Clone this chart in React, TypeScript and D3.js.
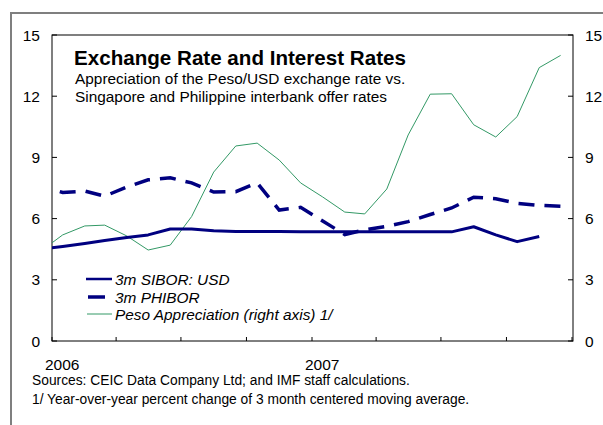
import React from "react";
import * as d3 from "d3";

const months = [
  "2005-12", "2006-01", "2006-02", "2006-03", "2006-04", "2006-05", "2006-06",
  "2006-07", "2006-08", "2006-09", "2006-10", "2006-11", "2006-12",
  "2007-01", "2007-02", "2007-03", "2007-04", "2007-05", "2007-06",
  "2007-07", "2007-08", "2007-09", "2007-10", "2007-11", "2007-12",
];
const sibor: (number | null)[] = [
  4.5, 4.63, 4.78, 4.93, 5.07, 5.2, 5.49, 5.49, 5.4, 5.37, 5.37, 5.37, 5.36,
  5.36, 5.35, 5.35, 5.35, 5.35, 5.35, 5.35, 5.6, 5.2, 4.87, 5.12, null,
];
const phibor: (number | null)[] = [
  7.6, 7.28, 7.35, 7.1, 7.55, 7.9, 8.0, 7.75, 7.3, 7.32, 7.75, 6.42, 6.55,
  5.88, 5.22, 5.45, 5.62, 5.85, 6.2, 6.52, 7.05, 6.97, 6.75, 6.65, 6.6,
];
const pesoAppreciation: (number | null)[] = [
  4.4, 5.2, 5.64, 5.68, 5.15, 4.46, 4.7, 6.1, 8.28, 9.56, 9.7, 8.87, 7.75,
  7.06, 6.32, 6.23, 7.45, 10.1, 12.1, 12.12, 10.6, 10.0, 11.0, 13.4, 14.0,
];
const yTicks = [0, 3, 6, 9, 12, 15];
const yearLabels = ["2006", "2007"];
const legendLabels = ["3m SIBOR: USD", "3m PHIBOR", "Peso Appreciation (right axis) 1/"];
const title = "Exchange Rate and Interest Rates";
const subtitle = [
  "Appreciation of the Peso/USD exchange rate vs.",
  "Singapore and Philippine interbank offer rates",
];
const notes = [
  "Sources: CEIC Data Company Ltd; and IMF staff calculations.",
  "1/ Year-over-year percent change of 3 month centered moving average.",
];

const W = 603;
const H = 425;
const L = 52, R = 573, T = 35, B = 341;
const NAVY = "#000080";
const GREEN = "#339966";
const FONT = "Liberation Sans, Arial, sans-serif";

const parse = (s: string) => {
  const [y, m] = s.split("-").map(Number);
  return new Date(y, m - 1, 16);
};

export default function App() {
  const x = d3.scaleTime().domain([new Date(2006, 0, 1), new Date(2008, 0, 1)]).range([L, R - 1]);
  const yL = d3.scaleLinear().domain([0, 15]).range([B, T]);
  const yR = d3.scaleLinear().domain([0, 15]).range([B, T]);
  const dates = months.map(parse);
  const mk = (vals: (number | null)[], sc: d3.ScaleLinear<number, number>) =>
    d3.line<number>()
      .defined((_, i) => vals[i] != null)
      .x((_, i) => x(dates[i]))
      .y((_, i) => sc(vals[i] as number))(vals.map((v) => (v ?? 0)) as number[]) || "";
  const xTicks = d3.timeMonth.every(3)!.range(new Date(2006, 0, 1), new Date(2008, 0, 2));
  const yearX = [new Date(2006, 0, 1), new Date(2007, 0, 1)];

  return (
    <svg width={W} height={H} style={{ position: "absolute", left: 0, top: 0 }} fontFamily={FONT}>
      <rect width={W} height={H} fill="#fff" />
      <path d={`M11,${H} V13 H${W}`} fill="none" stroke="#7f7f7f" strokeWidth={2} />
      <defs>
        <clipPath id="plot">
          <rect x={L} y={T} width={R - L} height={B - T} />
        </clipPath>
      </defs>
      <rect x={L} y={T} width={R - L} height={B - T} fill="none" stroke="#000" strokeWidth={1} />
      {yTicks.map((t) => (
        <g key={t}>
          <line x1={L} x2={L + 5} y1={yL(t)} y2={yL(t)} stroke="#000" />
          <line x1={R - 5} x2={R} y1={yR(t)} y2={yR(t)} stroke="#000" />
          <text x={40} y={yL(t)} dy="0.36em" textAnchor="end" fontSize={15.5}>{t}</text>
          <text x={585} y={yR(t)} dy="0.36em" textAnchor="start" fontSize={15.5}>{t}</text>
        </g>
      ))}
      {xTicks.map((d, i) => (
        <line key={i} x1={x(d)} x2={x(d)} y1={B} y2={B - 4} stroke="#000" />
      ))}
      {yearLabels.map((lab, i) => (
        <text key={lab} x={x(yearX[i]) - 7} y={370} fontSize={15.5}>{lab}</text>
      ))}
      <g clipPath="url(#plot)">
        <path d={mk(pesoAppreciation, yR)} fill="none" stroke={GREEN} strokeWidth={1} />
        <path d={mk(phibor, yL)} fill="none" stroke={NAVY} strokeWidth={3.5} strokeDasharray="16 10" strokeDashoffset={6} />
        <path d={mk(sibor, yL)} fill="none" stroke={NAVY} strokeWidth={3} strokeLinejoin="round" />
      </g>
      <text x={74} y={65} fontSize={20.6} fontWeight="bold">{title}</text>
      {subtitle.map((s, i) => (
        <text key={i} x={75} y={84 + i * 18} fontSize={15.4}>{s}</text>
      ))}
      <line x1={86} x2={112} y1={279} y2={279} stroke={NAVY} strokeWidth={2.5} />
      <line x1={88} x2={105} y1={297} y2={297} stroke={NAVY} strokeWidth={3.5} />
      <line x1={87} x2={112} y1={314} y2={314} stroke={GREEN} strokeWidth={1} />
      {legendLabels.map((s, i) => (
        <text key={i} x={115} y={285 + i * 17.5} fontSize={15.4} fontStyle="italic">{s}</text>
      ))}
      {notes.map((s, i) => (
        <text key={i} x={32} y={385 + i * 19} fontSize={13.8}>{s}</text>
      ))}
    </svg>
  );
}
